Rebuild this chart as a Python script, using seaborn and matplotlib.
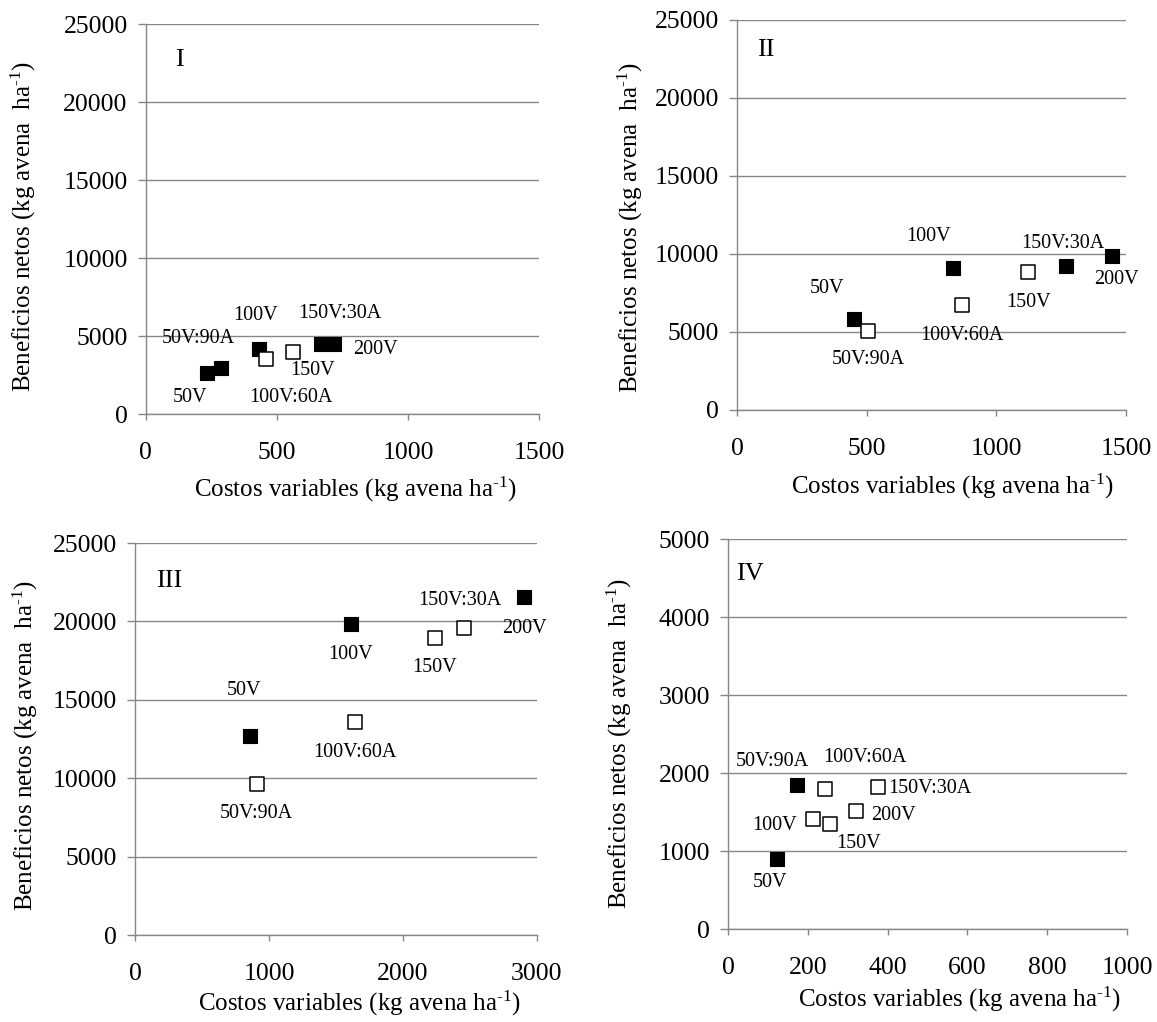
import matplotlib
matplotlib.use("Agg")
import matplotlib.pyplot as plt
import pandas as pd
import seaborn as sns

# Treatments (same order in every panel)
treatments = ["50V", "50V:90A", "100V", "100V:60A", "150V", "150V:30A", "200V"]

# Panel I
costs_I = [235, 286, 431, 457, 561, 668, 718]
benefits_I = [2660, 2980, 4210, 3550, 4000, 4540, 4540]
filled_I = [True, True, True, False, False, True, True]

# Panel II
costs_II = [451, 504, 832, 867, 1124, 1269, 1447]
benefits_II = [5860, 5080, 9120, 6740, 8820, 9250, 9890]
filled_II = [True, False, True, False, False, True, True]

# Panel III
costs_III = [858, 908, 1612, 1639, 2239, 2457, 2905]
benefits_III = [12690, 9650, 19820, 13570, 18960, 19580, 21560]
filled_III = [True, False, True, False, False, False, True]

# Panel IV
costs_IV = [122, 173, 213, 243, 255, 377, 320]
benefits_IV = [900, 1850, 1405, 1800, 1340, 1815, 1515]
filled_IV = [True, True, False, False, False, False, False]

panel_names = ["I", "II", "III", "IV"]
x_limits = [1500, 1500, 3000, 1000]
x_steps = [500, 500, 1000, 200]
y_limits = [25000, 25000, 25000, 5000]
y_steps = [5000, 5000, 5000, 1000]

x_title = r"Costos variables (kg avena ha$^{\text{-}1}$)"
y_title = r"Beneficios netos (kg avena  ha$^{\text{-}1}$)"

# ---- layout (pixels on a 1157 x 1022 canvas) ----
W, H = 1157, 1022
axes_px = {  # left, top, right, bottom
    "I": (145.7, 24.5, 539.3, 414.3),
    "II": (737, 20, 1126, 410),
    "III": (135, 543, 537, 935),
    "IV": (728, 539, 1127, 929),
}
# y-title anchor (right edge x, centre y), x-title anchor (centre x, top y)
ytitle_px = {"I": (38, 227), "II": (645, 228), "III": (40, 746), "IV": (634, 744)}
xtitle_px = {"I": (356, 475), "II": (953, 472), "III": (360, 989), "IV": (960, 985)}
# panel numeral position (axes fraction) and size
numeral_pos = {"I": (0.087, 0.908, 19), "II": (0.073, 0.924, 19),
               "III": (0.086, 0.904, 19), "IV": (0.056, 0.911, 19)}
# data-label offsets in points (dx, dy) for each treatment
label_offsets = {
    "I": [(-12.8, -17.9), (-16, 21), (-2, 24), (18, -27.9), (14.4, -13.2), (13.5, 21.6), (29.7, -4.5)],
    "II": [(-19.2, 21.5), (0.5, -20.9), (-17.7, 22.2), (0, -22), (0, -21.6), (-2, 16.2), (2.8, -17)],
    "III": [(-4.2, 32.5), (0, -21.3), (0, -21.5), (0, -21.7), (0, -21.5), (-3.1, 19.6), (0, -22.5)],
    "IV": [(-4.7, -17.3), (-17.8, 16.4), (-27.4, -4.4), (28.9, 22.7), (20.7, -14), (36.7, -0.8), (27, -3.5)],
}

panel_data = {
    "I": (costs_I, benefits_I, filled_I),
    "II": (costs_II, benefits_II, filled_II),
    "III": (costs_III, benefits_III, filled_III),
    "IV": (costs_IV, benefits_IV, filled_IV),
}

sns.set_theme(style="white")
plt.rcParams["font.family"] = ["Liberation Serif", "DejaVu Serif"]
plt.rcParams["mathtext.fontset"] = "custom"
plt.rcParams["mathtext.rm"] = "Liberation Serif"
plt.rcParams["mathtext.it"] = "Liberation Serif:italic"
plt.rcParams["mathtext.bf"] = "Liberation Serif:bold"

GRAY = "#878787"

fig = plt.figure(figsize=(W / 100, H / 100), dpi=100)
fig.patch.set_facecolor("white")

for i, name in enumerate(panel_names):
    l, t, r, b = axes_px[name]
    ax = fig.add_axes([l / W, 1 - b / H, (r - l) / W, (b - t) / H])
    costs, benefits, filled = panel_data[name]
    df = pd.DataFrame({"treatment": treatments, "cost": costs,
                       "benefit": benefits, "filled": filled})

    sns.scatterplot(data=df[df["filled"]], x="cost", y="benefit", marker="s",
                    s=105, color="black", edgecolor="black", linewidth=0.8,
                    ax=ax, zorder=3, legend=False)
    sns.scatterplot(data=df[~df["filled"]], x="cost", y="benefit", marker="s",
                    s=95, color="white", edgecolor="black", linewidth=1.1,
                    ax=ax, zorder=4, legend=False)

    for (_, row), (dx, dy) in zip(df.iterrows(), label_offsets[name]):
        ax.annotate(row["treatment"], (row["cost"], row["benefit"]),
                    xytext=(dx, dy), textcoords="offset points",
                    ha="center", va="center", fontsize=14.5, color="black",
                    zorder=5)

    ax.set_xlim(0, x_limits[i])
    ax.set_ylim(0, y_limits[i])
    ax.set_xticks(range(0, x_limits[i] + 1, x_steps[i]))
    ax.set_yticks(range(0, y_limits[i] + 1, y_steps[i]))

    ax.grid(False)
    ax.yaxis.grid(True, color=GRAY, linewidth=1.0)
    ax.set_axisbelow(True)
    for side in ["top", "right"]:
        ax.spines[side].set_visible(False)
    for side in ["left", "bottom"]:
        ax.spines[side].set_color(GRAY)
        ax.spines[side].set_linewidth(1.0)

    ax.tick_params(axis="x", direction="out", length=4, width=1.0, color=GRAY,
                   pad=16, labelsize=18.5, labelcolor="black", bottom=True)
    ax.tick_params(axis="y", direction="out", length=5.5, width=1.0, color=GRAY,
                   pad=7.5, labelsize=18.5, labelcolor="black", left=True)

    ax.set_xlabel(x_title, fontsize=18, color="black")
    ax.set_ylabel(y_title, fontsize=18, color="black")
    xx, xy = xtitle_px[name]
    ax.xaxis.set_label_coords((xx - l) / (r - l), (b - xy) / (b - t))
    yx, yy = ytitle_px[name]
    ax.yaxis.set_label_coords((yx - l) / (r - l), (b - yy) / (b - t))

    fx, fy, fs = numeral_pos[name]
    ax.text(fx, fy, name, transform=ax.transAxes, ha="center", va="center",
            fontsize=fs, color="black")

fig.savefig("out.png", dpi=100, facecolor="white")
